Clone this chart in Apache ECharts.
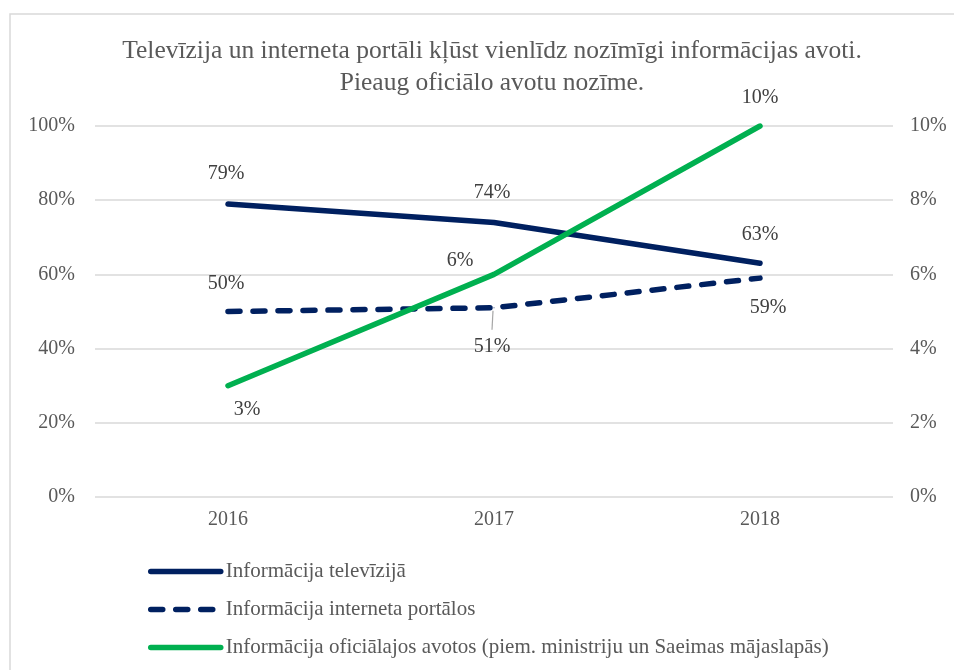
<!DOCTYPE html>
<html>
<head>
<meta charset="utf-8">
<script src="https://cdn.jsdelivr.net/npm/echarts@6/dist/echarts.min.js"></script>
<style>
  html, body { margin: 0; padding: 0; background: #fff; }
  #chart { width: 954px; height: 670px; }
</style>
</head>
<body>
<div id="chart"></div>
<script>
// dati
var years = ['2016', '2017', '2018'];
var tvValues = [79, 74, 63];
var portalValues = [50, 51, 59];
var officialValues = [3, 6, 10];
var seriesNames = [
  'Informācija televīzijā',
  'Informācija interneta portālos',
  'Informācija oficiālajos avotos (piem. ministriju un Saeimas mājaslapās)'
];

var font = '"Liberation Serif", "Times New Roman", serif';
var navy = '#002060';
var green = '#00B050';

// label offsets (x, y from point)
var tvOffsets = [[-2, -30], [-2, -30], [0, -29]];
var portalOffsets = [[-2, -28], [-2, 39], [8, 30]];
var officialOffsets = [[19, 24], [-34, -14], [0, -28]];

function buildData(values, offsets) {
  return values.map(function (v, i) {
    return {
      value: v,
      label: { offset: offsets[i] }
    };
  });
}

var labelBase = {
  show: true,
  position: 'inside',
  formatter: '{c}%',
  fontFamily: font,
  fontSize: 20,
  color: '#404040'
};

var myChart = echarts.init(document.getElementById('chart'));

var border = {
  type: 'rect',
  shape: { x: 10, y: 14, width: 980, height: 700 },
  style: { fill: 'none', stroke: '#d9d9d9', lineWidth: 1.5 },
  silent: true
};

var option = {
  backgroundColor: '#fff',
  animation: false,
  graphic: [border],
  title: {
    text: 'Televīzija un interneta portāli kļūst vienlīdz nozīmīgi informācijas avoti.\nPieaug oficiālo avotu nozīme.',
    left: 487,
    textAlign: 'center',
    top: 30,
    textStyle: {
      fontFamily: font,
      fontSize: 25.5,
      fontWeight: 'normal',
      color: '#595959',
      lineHeight: 32
    }
  },
  legend: {
    orient: 'vertical',
    left: 143,
    top: 556,
    height: 114,
    itemWidth: 70,
    itemHeight: 16,
    itemGap: 17,
    itemStyle: { opacity: 0 },
    lineStyle: { width: 5.5, cap: 'round' },
    textStyle: { fontFamily: font, fontSize: 21, color: '#595959' },
    data: seriesNames
  },
  grid: {
    left: 95,
    right: 61,
    top: 126,
    bottom: 173
  },
  xAxis: {
    type: 'category',
    data: years,
    axisLine: { show: false },
    axisTick: { show: false },
    axisLabel: { fontFamily: font, fontSize: 20, color: '#595959', margin: 13 }
  },
  yAxis: [{
    type: 'value',
    min: 0,
    max: 100,
    interval: 20,
    axisLabel: { formatter: '{value}%', fontFamily: font, fontSize: 20, color: '#595959', margin: 20 },
    axisLine: { show: false },
    axisTick: { show: false },
    splitLine: { lineStyle: { color: '#d9d9d9', width: 1.5 } }
  }, {
    type: 'value',
    min: 0,
    max: 10,
    interval: 2,
    axisLabel: { formatter: '{value}%', fontFamily: font, fontSize: 20, color: '#595959', margin: 17 },
    axisLine: { show: false },
    axisTick: { show: false },
    splitLine: { show: false }
  }],
  series: [{
    name: seriesNames[0],
    type: 'line',
    yAxisIndex: 0,
    symbol: 'circle',
    symbolSize: 1,
    lineStyle: { color: navy, width: 5.5, cap: 'round' },
    itemStyle: { color: navy },
    label: labelBase,
    data: buildData(tvValues, tvOffsets)
  }, {
    name: seriesNames[1],
    type: 'line',
    yAxisIndex: 0,
    symbol: 'circle',
    symbolSize: 1,
    lineStyle: { color: navy, width: 5.5, type: [12, 13], cap: 'round' },
    itemStyle: { color: navy },
    label: labelBase,
    data: buildData(portalValues, portalOffsets)
  }, {
    name: seriesNames[2],
    type: 'line',
    yAxisIndex: 1,
    symbol: 'circle',
    symbolSize: 1,
    lineStyle: { color: green, width: 5.5, cap: 'round' },
    itemStyle: { color: green },
    label: labelBase,
    data: buildData(officialValues, officialOffsets)
  }]
};

myChart.setOption(option);

// leader line for the 51% label
var p1 = myChart.convertToPixel({ seriesIndex: 1 }, [1, portalValues[1]]);
myChart.setOption({
  graphic: [border, {
    type: 'line',
    shape: { x1: p1[0] - 1, y1: p1[1] + 3, x2: p1[0] - 2, y2: p1[1] + 22 },
    style: { stroke: '#a6a6a6', lineWidth: 1.2 },
    silent: true
  }]
});
</script>
</body>
</html>
